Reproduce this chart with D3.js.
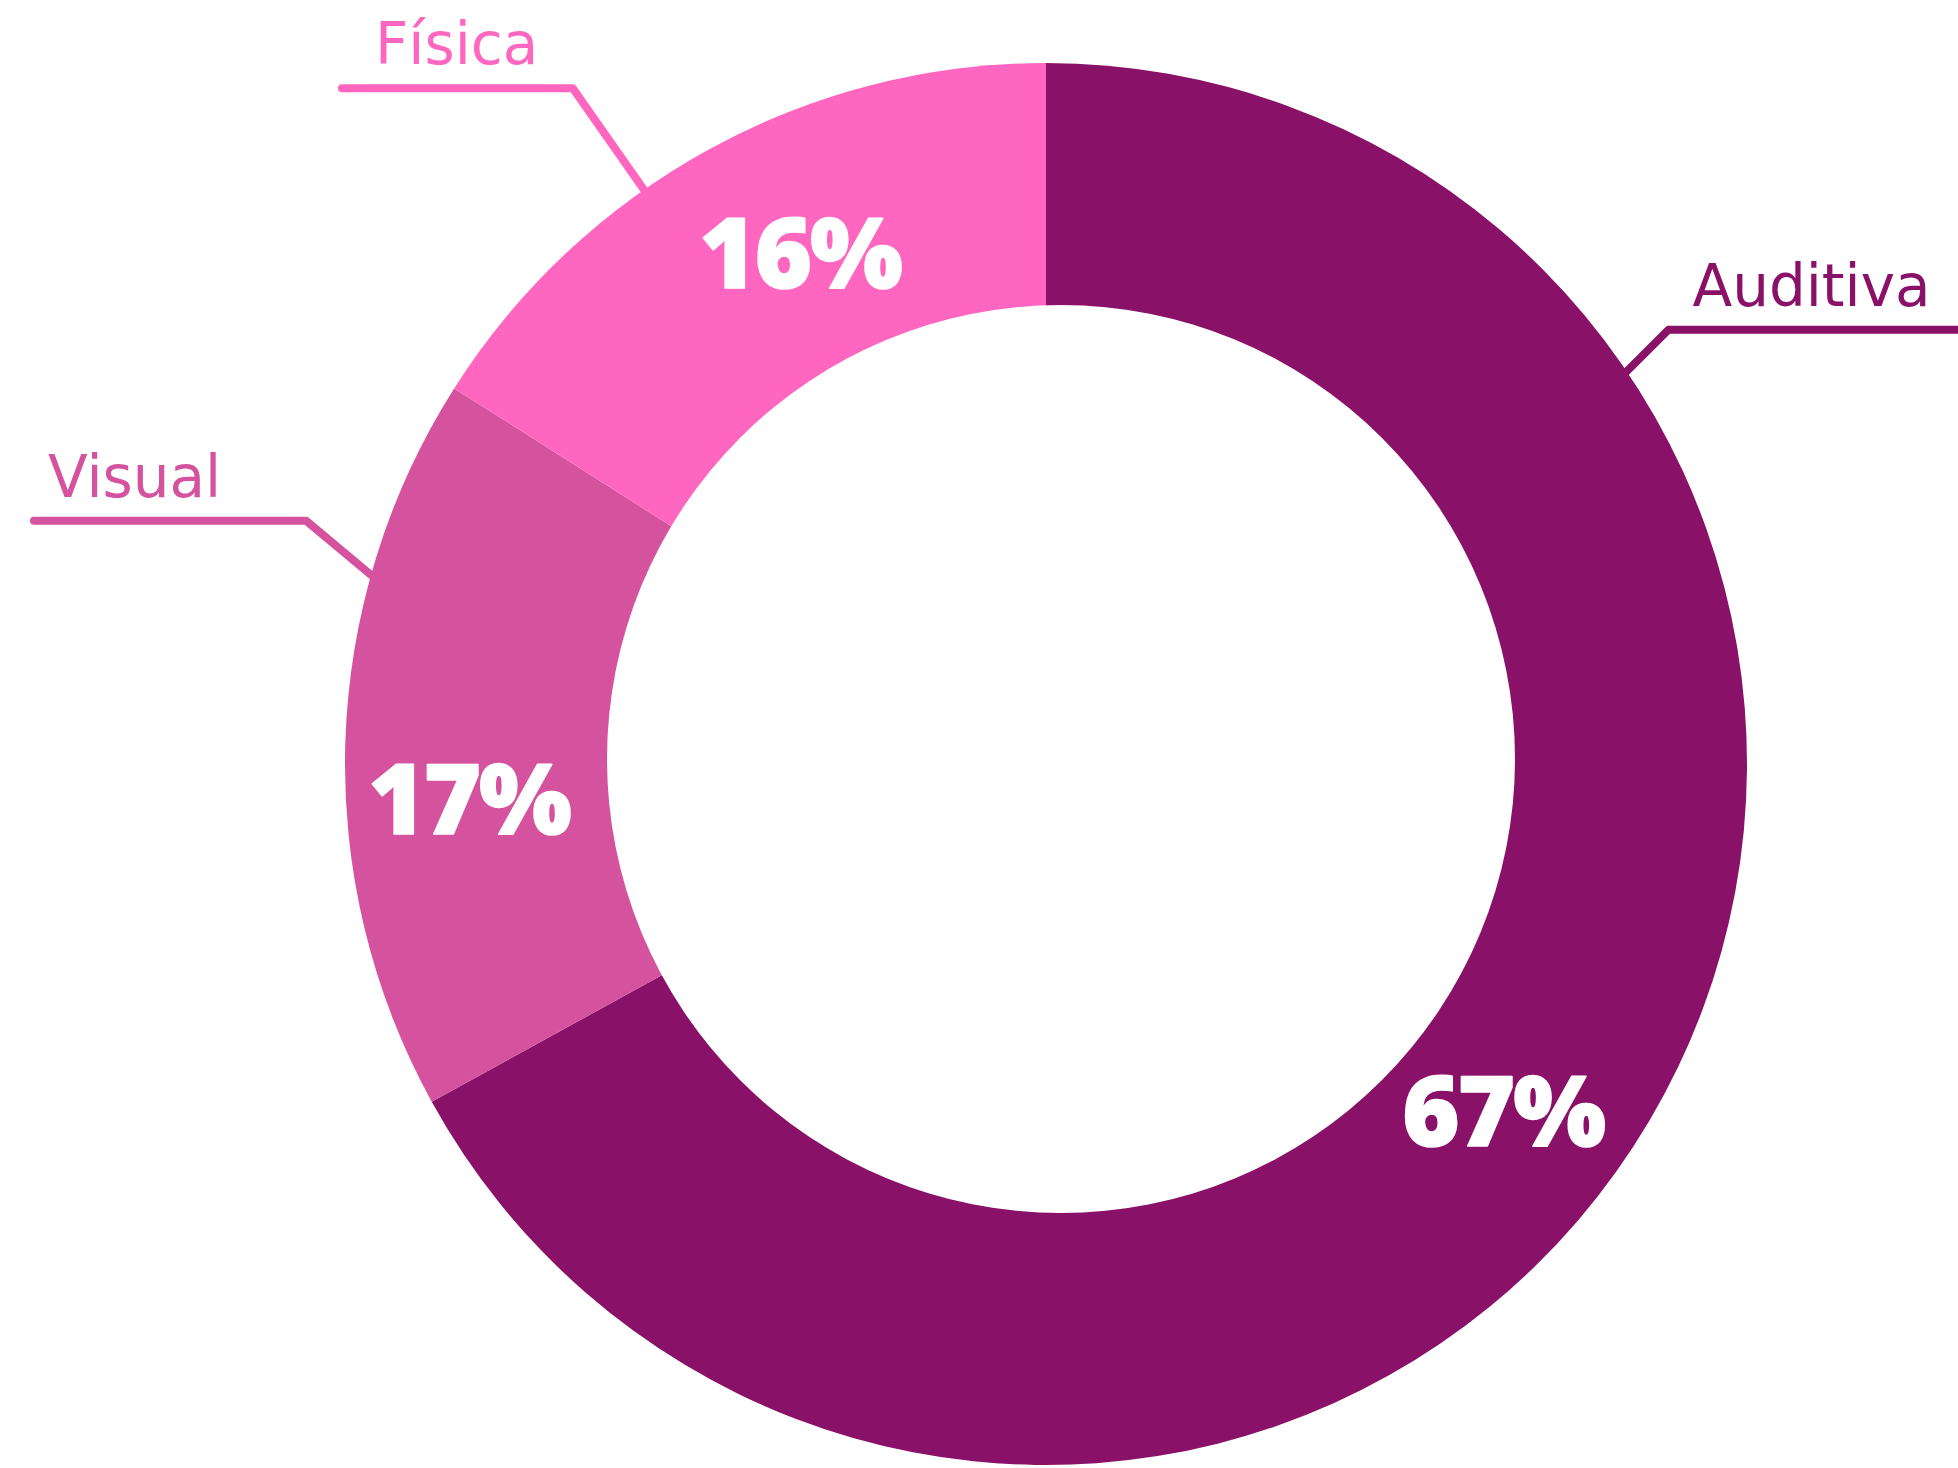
<!DOCTYPE html>
<html>
<head>
<meta charset="utf-8">
<script src="https://cdn.jsdelivr.net/npm/d3@7"></script>
<style>
  body { margin: 0; background: #fff; }
  svg { display: block; }
</style>
</head>
<body>
<div id="chart"></div>
<script>
var categories = ["Auditiva", "Visual", "Física"];
var values = [67, 17, 16];
var colors = ["#8A1168", "#D4529E", "#FF66C0"];
var pctLabels = ["67%", "17%", "16%"];

// layout
var W = 1958, H = 1468;
var cx = 1046, cy = 764, rOuter = 701;
var hole = { dx: 15, dy: -5, r: 454 };
var pctRadius = [574, 578, 567], pctNudge = [6.6, -5.3, 3.1];   // px, degrees
var leadAngle = [56, 285.5, 325];                  // degrees, clockwise from top
var elbowAngle = [55.1, 288.2, 325];
var elbowRadius = [759, 779, 825];
var leadEndX = [2010, 34, 342];
var nameOffset = [24, 14, 33];

var svg = d3.select("#chart").append("svg")
    .attr("width", W)
    .attr("height", H);

var g = svg.append("g").attr("transform", "translate(" + cx + "," + cy + ")");

var pie = d3.pie().sort(null).value(function(d) { return d; });
var arcs = pie(values);

var arc = d3.arc().innerRadius(0).outerRadius(rOuter);

g.selectAll("path.slice").data(arcs).enter().append("path")
    .attr("class", "slice")
    .attr("d", arc)
    .attr("fill", function(d, i) { return colors[i]; });

// donut hole
g.append("circle")
    .attr("cx", hole.dx)
    .attr("cy", hole.dy)
    .attr("r", hole.r)
    .attr("fill", "#fff");

function polar(angleDeg, r) {
    var a = angleDeg * Math.PI / 180;
    return [Math.sin(a) * r, -Math.cos(a) * r];
}

function pctPos(d, i) {
    var mid = (d.startAngle + d.endAngle) / 2 * 180 / Math.PI;
    return polar(mid + pctNudge[i], pctRadius[i]);
}

// percentages
g.selectAll("text.pct").data(arcs).enter().append("text")
    .attr("class", "pct")
    .attr("x", function(d, i) { return pctPos(d, i)[0]; })
    .attr("y", function(d, i) { return pctPos(d, i)[1] + 35; })
    .attr("text-anchor", "middle")
    .attr("fill", "#fff")
    .attr("stroke", "#fff")
    .attr("stroke-width", 1.5)
    .attr("stroke-linejoin", "round")
    .style("font-family", "'Noto Sans', sans-serif")
    .style("font-weight", 900)
    .style("font-size", "98px")
    .style("letter-spacing", "-2px")
    .text(function(d, i) { return pctLabels[i]; });

// leader lines + names
categories.forEach(function(name, i) {
    var p0 = polar(leadAngle[i], rOuter - 4);
    var p1 = polar(elbowAngle[i], elbowRadius[i]);
    var p2 = [leadEndX[i] - cx, p1[1]];
    g.append("path")
        .attr("d", d3.line()([p0, p1, p2]))
        .attr("fill", "none")
        .attr("stroke", colors[i])
        .attr("stroke-width", 8)
        .attr("stroke-linecap", "round")
        .attr("stroke-linejoin", "round");

    var tx = p2[0] < p1[0] ? p2[0] + nameOffset[i] : p1[0] + nameOffset[i];
    g.append("text")
        .attr("x", tx)
        .attr("y", p1[1] - 24)
        .attr("fill", colors[i])
        .style("font-family", "'DejaVu Sans', sans-serif")
        .style("font-weight", 400)
        .style("font-size", "58px")
        .text(name);
});
</script>
</body>
</html>
